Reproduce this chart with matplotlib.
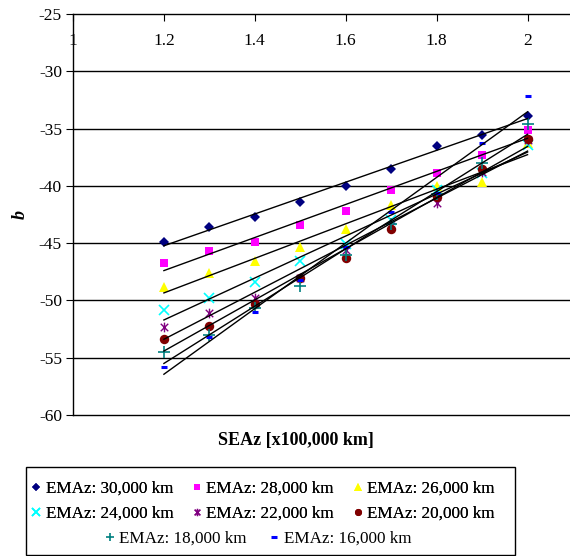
import numpy as np
import matplotlib
matplotlib.use("Agg")
import matplotlib.pyplot as plt
from matplotlib.path import Path
from matplotlib.patches import Rectangle

plt.rcParams['font.family'] = ['Liberation Serif', 'DejaVu Serif']

# ---- data ----
x_vals = [1.2, 1.3, 1.4, 1.5, 1.6, 1.7, 1.8, 1.9, 2.0]
labels = ["EMAz: 30,000 km", "EMAz: 28,000 km", "EMAz: 26,000 km",
          "EMAz: 24,000 km", "EMAz: 22,000 km", "EMAz: 20,000 km",
          "EMAz: 18,000 km", "EMAz: 16,000 km"]
b_30 = [-44.9, -43.6, -42.7, -41.4, -40.0, -38.5, -36.5, -35.6, -33.9]
b_28 = [-46.7, -45.7, -44.9, -43.4, -42.2, -40.4, -38.9, -37.3, -35.1]
b_26 = [-48.8, -47.6, -46.6, -45.3, -43.8, -41.7, -40.0, -39.7, -36.3]
b_24 = [-50.8, -49.8, -48.4, -46.6, -45.1, -43.0, -40.4, -38.9, -36.4]
b_22 = [-52.3, -51.1, -49.8, -48.0, -45.6, -43.5, -41.5, -38.8, -36.0]
b_20 = [-53.4, -52.2, -50.3, -48.0, -46.3, -43.8, -41.0, -38.5, -35.9]
b_18 = [-54.5, -53.0, -50.7, -48.7, -46.0, -43.3, -40.7, -38.0, -34.6]
b_16 = [-55.8, -53.2, -51.0, -48.2, -45.3, -42.3, -40.6, -36.3, -32.2]
series = [b_30, b_28, b_26, b_24, b_22, b_20, b_18, b_16]

x_ticks = [1, 1.2, 1.4, 1.6, 1.8, 2]
x_ticklabels = ["1", "1.2", "1.4", "1.6", "1.8", "2"]
y_ticks = [-60, -55, -50, -45, -40, -35, -30, -25]

# ---- styles ----
star = Path([(-1, -1), (1, 1), (-1, 1), (1, -1), (0, -1.3), (0, 1.3)],
            [Path.MOVETO, Path.LINETO, Path.MOVETO, Path.LINETO, Path.MOVETO, Path.LINETO])
styles = [
    dict(marker='D', color='#000080', ms=5.5, mew=0),
    dict(marker='s', color='#FF00FF', ms=6.3, mew=0),
    dict(marker='^', color='#FFFF00', ms=7.5, mew=0),
    dict(marker='x', color='#00FFFF', ms=7, mew=1.2),
    dict(marker=star, color='#800080', ms=7, mew=1.0),
    dict(marker='o', color='#800000', ms=6.8, mew=0),
    dict(marker='+', color='#008080', ms=8, mew=1.2),
    dict(marker='_', color='#0000FF', ms=5, mew=2.2),
]

fig = plt.figure(figsize=(5.70, 5.56), dpi=100)
W, H = 570, 556
ax = fig.add_axes([73 / W, 1 - 415 / H, 500 / W, (415 - 14) / H])

x = np.array(x_vals)
handles = []
for ys, st, lab in zip(series, styles, labels):
    h, = ax.plot(x, ys, linestyle='none', marker=st['marker'], color=st['color'],
                 markersize=st['ms'], markeredgewidth=st['mew'], label=lab, zorder=3)
    handles.append(h)
    k, c = np.polyfit(x, ys, 1)
    ax.plot([x[0], x[-1]], [k * x[0] + c, k * x[-1] + c], color='black', lw=1.0, zorder=4)

ax.set_xlim(1, 2.1)
ax.set_ylim(-60, -25)
ax.set_yticks(y_ticks)
ax.set_yticklabels([str(v) for v in y_ticks])
ax.set_xticks(x_ticks)
ax.set_xticklabels(x_ticklabels)
for v in y_ticks[1:-1]:
    ax.axhline(v, color='black', lw=1.0, zorder=1)

ax.xaxis.set_ticks_position('top')
ax.tick_params(axis='x', top=True, bottom=False, labeltop=True, labelbottom=False,
               direction='in', length=5, pad=-25, labelsize=12.5)
ax.tick_params(axis='y', direction='out', length=5, labelsize=12.5, pad=3)
ax.spines['right'].set_visible(False)
for s in ['top', 'left', 'bottom']:
    ax.spines[s].set_linewidth(1.0)

ax.set_ylabel('b', fontsize=13, fontweight='bold', fontstyle='italic', labelpad=7)
fig.text(296 / W, 1 - 440 / H, 'SEAz [x100,000 km]', fontsize=13, fontweight='bold',
         ha='center', va='center')

# legend frame
fig.add_artist(Rectangle((26 / W, 1 - 555 / H), (515 - 26) / W, (555 - 467) / H,
                         transform=fig.transFigure, fill=False, ec='black', lw=1.0))
# matplotlib fills legend columns first; order so rows read 30,28,26 / 24,22,20
order = [0, 3, 1, 4, 2, 5]
leg1 = fig.legend(handles=[handles[i] for i in order], ncol=3, loc='upper left',
                  bbox_to_anchor=(31 / W, 1 - 481 / H), frameon=False, fontsize=12.3,
                  handlelength=0.6, handletextpad=0.25, columnspacing=1.1,
                  labelspacing=0.5, borderpad=0, borderaxespad=0, markerscale=0.75)
leg2 = fig.legend(handles=handles[6:], ncol=2, loc='center',
                  bbox_to_anchor=(258 / W, 1 - 539 / H), frameon=False, fontsize=12.3,
                  handlelength=0.6, handletextpad=0.25, columnspacing=1.3,
                  borderpad=0, borderaxespad=0, markerscale=0.75)
fig.add_artist(leg1)

fig.savefig('out.png', dpi=100)
